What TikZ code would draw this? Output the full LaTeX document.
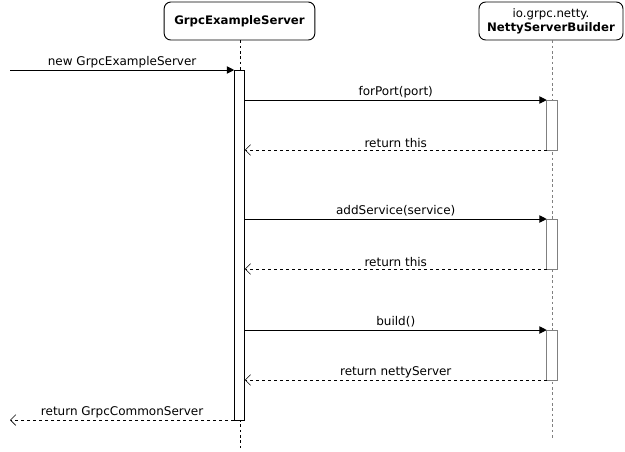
\documentclass[tikz,border=0pt]{standalone}
\usepackage{fontspec}
\setmainfont{DejaVu Sans}
\usetikzlibrary{arrows.meta,positioning}
\tikzset{head/.style={
    draw, rounded corners=5pt, minimum height=28.5pt,
    inner sep=1pt, align=center, font=\fontsize{8.8}{10.5}\selectfont
  },
  activation/.style={
    draw, fill=white, minimum width=7.9pt, inner sep=0pt, outer sep=0pt
  },
  lifeline/.style={dash pattern=on 2pt off 2pt},
  call/.style={-{Triangle[length=5.5pt,width=5.5pt]}},
  reply/.style={dash pattern=on 2.25pt off 2.25pt,
    -{Straight Barb[length=4pt,width=8pt,line width=0.5pt]}},
  msg/.style={above, inner sep=1.5pt, font=\fontsize{9}{10.5}\selectfont}
}
\begin{document}
\begin{tikzpicture}[x=0.75pt,y=-0.75pt,line width=0.7pt]
    \useasboundingbox (0,0) rectangle (625,451);
    % participants
    \node[head, minimum width=113pt] (server) at (239.5,21) {\bfseries GrpcExampleServer};
    \node[head, minimum width=108pt] (builder) at (551,21) {io.grpc.netty.\\\bfseries NettyServerBuilder};
    \coordinate (server end) at (240,451);
    \coordinate (builder end) at (552,440);
    \draw[lifeline] (server.south -| server end) -- (server end);
    \draw[lifeline, gray] (builder.south -| builder end) -- (builder end);
    % activations
    \node[activation, minimum height=262.5pt] (act) at (239.5,245) {};
    \foreach \y/\n in {125/a,244/b,355/c}
      \node[activation, draw=gray, minimum height=37.5pt] (act \n) at (552,\y) {};
    % outer caller
    \coordinate (caller in) at (10,70);
    \coordinate (caller out) at (10,420);
    \draw[call] (caller in) -- node[msg] {new GrpcExampleServer} (act.north west);
    \draw[reply] (act.south west) -- node[msg] {return GrpcCommonServer} (caller out);
    % calls to the builder
    \foreach \n/\call/\ret in {a/forPort(port)/return this,
                               b/addService(service)/return this,
                               c/build()/return nettyServer} {
      \draw[call] (act.east |- act \n.north) -- node[msg] {\call} (act \n.north west);
      \draw[reply] (act \n.south west) -- node[msg] {\ret} (act.east |- act \n.south);
    }
\end{tikzpicture}
\end{document}
